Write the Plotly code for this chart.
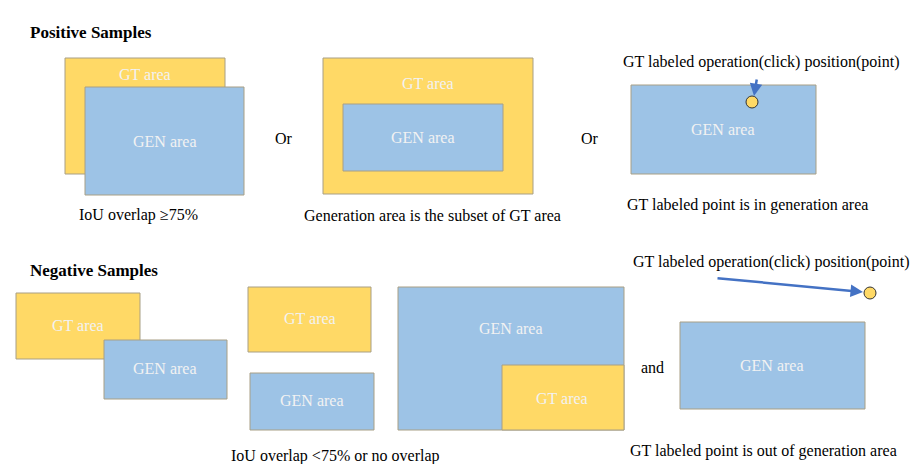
import plotly.graph_objects as go

# boxes: (x0, y0, x1, y1, kind) in picture pixels
boxes = [
    (49, 42, 209, 158, "GT"), (69, 71, 228, 179, "GEN"),
    (307, 42, 517, 178, "GT"), (327, 88, 487, 155, "GEN"),
    (615, 69, 800, 158, "GEN"),
    (0, 277, 124, 343, "GT"), (88, 324, 211, 383, "GEN"),
    (232, 271, 355, 336, "GT"), (234, 357, 358, 414, "GEN"),
    (382, 271, 608, 414, "GEN"), (486, 349, 608, 414, "GT"),
    (664, 306, 849, 393, "GEN"),
]
box_labels = [
    (129, 58, "GT area"), (149, 125, "GEN area"),
    (412, 67, "GT area"), (407, 121, "GEN area"),
    (707, 113, "GEN area"),
    (62, 309, "GT area"), (149, 352, "GEN area"),
    (294, 302, "GT area"), (296, 384, "GEN area"),
    (495, 312, "GEN area"), (546, 382, "GT area"),
    (756, 349, "GEN area"),
]
texts = [
    (268, 122, "Or"), (574, 122, "Or"), (636, 351, "and"),
    (745, 46, "GT labeled operation(click) position(point)"),
    (755, 246, "GT labeled operation(click) position(point)"),
    (122, 199, "IoU overlap ≥75%"),
    (416, 199, "Generation area is the subset of GT area"),
    (731, 189, "GT labeled point is in generation area"),
    (319, 440, "IoU overlap <75% or no overlap"),
    (747, 435, "GT labeled point is out of generation area"),
]
titles = [(12, 16, "Positive Samples"), (12, 254, "Negative Samples")]
points = [(736, 86), (854, 277)]
arrows = [(741, 62, 738, 80), (700, 262, 847, 276)]

colors = {"GT": "#FFD966", "GEN": "#9DC3E6"}
font = "'Liberation Serif', 'DejaVu Serif', serif"

fig = go.Figure()
shapes = []
for x0, y0, x1, y1, k in boxes:
    shapes.append(dict(type="rect", x0=x0, y0=y0, x1=x1, y1=y1, xref="x", yref="y",
                       fillcolor=colors[k], line=dict(color="#A89F85", width=1)))
for px, py in points:
    shapes.append(dict(type="circle", x0=px - 6, y0=py - 6, x1=px + 6, y1=py + 6,
                       xref="x", yref="y", fillcolor="#FFD966",
                       line=dict(color="#333333", width=1)))

ann = []
for x, y, t in box_labels:
    ann.append(dict(x=x, y=y, text=t, showarrow=False,
                    font=dict(family=font, size=16, color="#F2F2F2")))
for x, y, t in texts:
    ann.append(dict(x=x, y=y, text=t, showarrow=False,
                    font=dict(family=font, size=16, color="#000000")))
for x, y, t in titles:
    ann.append(dict(x=x, y=y, text="<b>" + t + "</b>", showarrow=False, xanchor="left",
                    font=dict(family=font, size=17, color="#000000")))
for x0, y0, x1, y1 in arrows:
    ann.append(dict(x=x1, y=y1, ax=x0, ay=y0, axref="x", ayref="y", text="",
                    showarrow=True, arrowhead=2, arrowsize=1, arrowwidth=2.5,
                    arrowcolor="#4472C4"))

# page body has an 8px margin, so shift the ranges to line up with the reference
fig.update_layout(
    width=920, height=464, margin=dict(l=0, r=0, t=0, b=0),
    paper_bgcolor="white", plot_bgcolor="white",
    shapes=shapes, annotations=ann, showlegend=False,
    xaxis=dict(range=[-8, 912], visible=False),
    yaxis=dict(range=[456, -8], visible=False),
)
fig.write_html("out.html")
